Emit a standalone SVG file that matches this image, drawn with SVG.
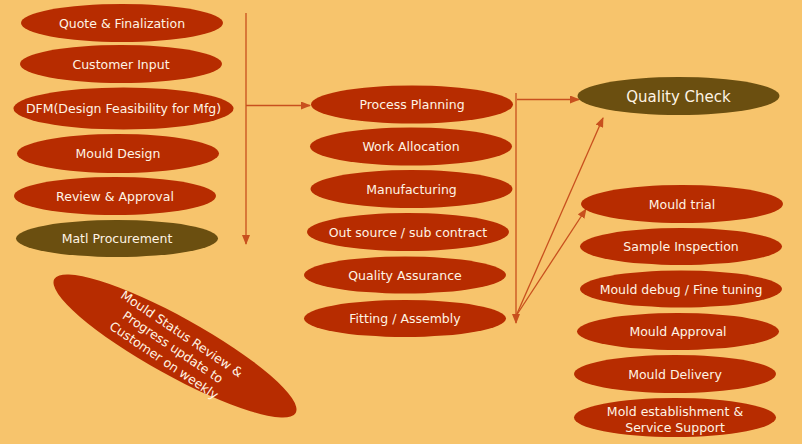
<svg xmlns="http://www.w3.org/2000/svg" width="802" height="444" viewBox="0 0 802 444">
<style>
.n{fill:#B72C00}
.o{fill:#6B4F10}
text{font-family:"DejaVu Sans","Liberation Sans",sans-serif;font-size:12.5px;fill:#FFF4E4;text-anchor:middle}
.c{stroke:#C8501E;stroke-width:1.3;fill:none}
</style>
<defs>
<marker id="ah" markerWidth="10" markerHeight="8" refX="9" refY="4" orient="auto" markerUnits="userSpaceOnUse">
<path d="M0,0 L10,4 L0,8 Z" fill="#C8501E"/>
</marker>
</defs>
<rect width="802" height="444" fill="#F7C46C"/>
<g id="connectors">
<line class="c" x1="246" y1="13" x2="246" y2="244" marker-end="url(#ah)"/>
<line class="c" x1="246" y1="105.5" x2="310" y2="105.5" marker-end="url(#ah)"/>
<line class="c" x1="516" y1="93" x2="516" y2="323" marker-end="url(#ah)"/>
<line class="c" x1="517" y1="99.5" x2="579" y2="99.5" marker-end="url(#ah)"/>
<line class="c" x1="516" y1="316" x2="603" y2="118" marker-end="url(#ah)"/>
<line class="c" x1="516" y1="316" x2="586" y2="209" marker-end="url(#ah)"/>
</g>
<g id="quote"><ellipse class="n" cx="122" cy="23" rx="101" ry="19"/><text x="122" y="27.5">Quote &amp; Finalization</text></g>
<g id="customer-input"><ellipse class="n" cx="121" cy="64" rx="101" ry="19"/><text x="121" y="68.5">Customer Input</text></g>
<g id="dfm"><ellipse class="n" cx="123.5" cy="108.5" rx="110" ry="21"/><text x="123.5" y="113">DFM(Design Feasibility for Mfg)</text></g>
<g id="mould-design"><ellipse class="n" cx="118" cy="153.5" rx="101" ry="19.5"/><text x="118" y="158">Mould Design</text></g>
<g id="review-approval"><ellipse class="n" cx="115" cy="196" rx="101" ry="19"/><text x="115" y="200.5">Review &amp; Approval</text></g>
<g id="matl-procurement"><ellipse class="o" cx="117" cy="238.5" rx="101" ry="18.5"/><text x="117" y="243">Matl Procurement</text></g>
<g id="status-review"><ellipse class="n" cx="175" cy="346" rx="138" ry="29" transform="rotate(29 175 346)"/>
<g transform="translate(173,347) rotate(34)"><text x="0" y="-11.5">Mould Status Review &amp;</text><text x="0" y="4.5">Progress update to</text><text x="0" y="20.5">Customer on weekly</text></g></g>
<g id="process-planning"><ellipse class="n" cx="412" cy="104.5" rx="101" ry="19"/><text x="412" y="109">Process Planning</text></g>
<g id="work-allocation"><ellipse class="n" cx="411" cy="146.5" rx="101" ry="19"/><text x="411" y="151">Work Allocation</text></g>
<g id="manufacturing"><ellipse class="n" cx="411.5" cy="189" rx="101" ry="19"/><text x="411.5" y="193.5">Manufacturing</text></g>
<g id="outsource"><ellipse class="n" cx="408" cy="232" rx="101" ry="19"/><text x="408" y="236.5">Out source / sub contract</text></g>
<g id="quality-assurance"><ellipse class="n" cx="405" cy="275" rx="101" ry="18.5"/><text x="405" y="279.5">Quality Assurance</text></g>
<g id="fitting-assembly"><ellipse class="n" cx="405" cy="318.5" rx="101" ry="18.5"/><text x="405" y="323">Fitting / Assembly</text></g>
<g id="quality-check"><ellipse class="o" cx="678.5" cy="96" rx="101" ry="19"/><text x="678.5" y="101.5" style="font-size:15px">Quality Check</text></g>
<g id="mould-trial"><ellipse class="n" cx="682" cy="204" rx="101" ry="19"/><text x="682" y="208.5">Mould trial</text></g>
<g id="sample-inspection"><ellipse class="n" cx="681" cy="246.5" rx="101" ry="18.5"/><text x="681" y="251">Sample Inspection</text></g>
<g id="mould-debug"><ellipse class="n" cx="681" cy="289" rx="101" ry="18.5"/><text x="681" y="293.5">Mould debug / Fine tuning</text></g>
<g id="mould-approval"><ellipse class="n" cx="678" cy="331.5" rx="101" ry="18.5"/><text x="678" y="336">Mould Approval</text></g>
<g id="mould-delivery"><ellipse class="n" cx="675" cy="374" rx="101" ry="19"/><text x="675" y="378.5">Mould Delivery</text></g>
<g id="mold-establishment"><ellipse class="n" cx="675" cy="417.5" rx="101" ry="19.5"/><text x="675" y="415.5">Mold establishment &amp;</text><text x="675" y="431.5">Service Support</text></g>
</svg>
